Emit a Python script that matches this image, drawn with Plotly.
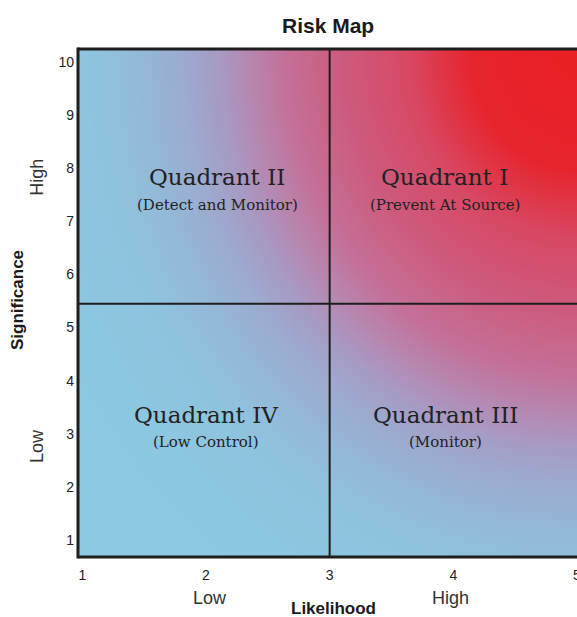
import numpy as np
import plotly.graph_objects as go

# ---- data ----
x_ticks = [1, 2, 3, 4, 5]
y_ticks = [1, 2, 3, 4, 5, 6, 7, 8, 9, 10]
x_split = 3
y_split = 5.45
quad_names = ["Quadrant II", "Quadrant I", "Quadrant IV", "Quadrant III"]
quad_subs = ["(Detect and Monitor)", "(Prevent At Source)", "(Low Control)", "(Monitor)"]
x_level_labels = ["Low", "High"]
y_level_labels = ["Low", "High"]

# ---- layout constants ----
X_RANGE = [0.965, 5.0]
Y_RANGE = [0.68, 10.245]
W, H = 577, 617
M_L, M_R, M_T, M_B = 78, 0, 49, 60
quad_xy = [(2.09, 7.83), (3.93, 7.83), (2.0, 3.36), (3.94, 3.36)]
sub_dy = -0.52

# background gradient (elliptical from top-right corner, in pixel space)
px_per_x = (W - M_L - M_R) / (X_RANGE[1] - X_RANGE[0])
px_per_y = (H - M_T - M_B) / (Y_RANGE[1] - Y_RANGE[0])
gx = np.linspace(X_RANGE[0], X_RANGE[1], 220)
gy = np.linspace(Y_RANGE[0], Y_RANGE[1], 220)
XX, YY = np.meshgrid(gx, gy)
cx, cy = 5.02, 10.25
Z = np.sqrt(((XX - cx) * px_per_x * 1.1) ** 2 + ((YY - cy) * px_per_y) ** 2)

ZMAX = 650.0
stops = [
    (0, (234, 30, 36)),
    (120, (231, 36, 44)),
    (190, (216, 72, 100)),
    (260, (205, 90, 125)),
    (325, (196, 112, 152)),
    (370, (180, 138, 180)),
    (400, (166, 155, 196)),
    (440, (155, 172, 208)),
    (480, (148, 184, 215)),
    (530, (142, 195, 222)),
    (650, (140, 200, 226)),
]
cscale = [[d / ZMAX, "rgb(%d,%d,%d)" % c] for d, c in stops]

fig = go.Figure()
fig.add_trace(go.Heatmap(
    x=gx, y=gy, z=Z, zmin=0, zmax=ZMAX, colorscale=cscale,
    showscale=False, zsmooth="best", hoverinfo="skip",
))

line_col = "#1e1e1e"
shapes = [
    dict(type="line", xref="x", yref="paper", x0=x_split, x1=x_split, y0=0, y1=1,
         line=dict(color=line_col, width=2)),
    dict(type="line", xref="paper", yref="y", x0=0, x1=1.02, y0=y_split, y1=y_split,
         line=dict(color=line_col, width=2)),
    # frame
    dict(type="line", xref="paper", yref="paper", x0=0, x1=0, y0=-0.003, y1=1.003,
         line=dict(color=line_col, width=3)),
    dict(type="line", xref="paper", yref="paper", x0=0, x1=1.05, y0=1, y1=1,
         line=dict(color=line_col, width=3)),
    dict(type="line", xref="paper", yref="paper", x0=0, x1=1.05, y0=0, y1=0,
         line=dict(color=line_col, width=3)),
]

serif = "DejaVu Serif"
sans = "Liberation Sans"
ann = []
for (qx, qy), name, sub in zip(quad_xy, quad_names, quad_subs):
    ann.append(dict(x=qx, y=qy, text=name, showarrow=False, xref="x", yref="y",
                    xanchor="center", yanchor="middle",
                    font=dict(family=serif, size=23, color="#222")))
    ann.append(dict(x=qx, y=qy + sub_dy, text=sub, showarrow=False, xref="x", yref="y",
                    xanchor="center", yanchor="middle",
                    font=dict(family=serif, size=15, color="#222")))

# level labels on x axis
for xv, txt in zip([2.03, 3.98], x_level_labels):
    ann.append(dict(x=xv, y=-0.0807, xref="x", yref="paper", text=txt, showarrow=False,
                    xanchor="center", yanchor="middle",
                    font=dict(family=sans, size=18, color="#333")))
# level labels on y axis
for yv, txt in zip([2.77, 7.82], y_level_labels):
    ann.append(dict(x=-0.082, y=yv, xref="paper", yref="y", text=txt, showarrow=False,
                    textangle=-90, xanchor="center", yanchor="middle",
                    font=dict(family=sans, size=18, color="#333")))
# axis titles
ann.append(dict(x=3.03, y=-0.1004, xref="x", yref="paper", text="<b>Likelihood</b>", showarrow=False,
                xanchor="center", yanchor="middle",
                font=dict(family=sans, size=17, color="#1a1a1a")))
ann.append(dict(x=-0.120, y=5.52, xref="paper", yref="y", text="<b>Significance</b>", showarrow=False,
                textangle=-90, xanchor="center", yanchor="middle",
                font=dict(family=sans, size=17, color="#1a1a1a")))
# title
ann.append(dict(x=2.99, y=1.0, yshift=24, xref="x", yref="paper", text="<b>Risk Map</b>", showarrow=False,
                xanchor="center", yanchor="middle",
                font=dict(family=sans, size=21, color="#1a1a1a")))

fig.update_layout(
    width=W, height=H,
    margin=dict(l=M_L, r=M_R, t=M_T, b=M_B, pad=0, autoexpand=False),
    paper_bgcolor="white", plot_bgcolor="white",
    shapes=shapes, annotations=ann,
    showlegend=False,
    xaxis=dict(range=X_RANGE, tickvals=x_ticks, ticktext=[str(v) for v in x_ticks],
               showgrid=False, zeroline=False, showline=False, ticks="",
               ticklabelstandoff=8, ticklabeloverflow="allow", automargin=False,
               tickfont=dict(family=sans, size=14, color="#222"), fixedrange=True),
    yaxis=dict(range=Y_RANGE, tickvals=y_ticks, ticktext=[str(v) for v in y_ticks],
               showgrid=False, zeroline=False, showline=False, ticks="",
               ticklabelstandoff=3, automargin=False,
               tickfont=dict(family=sans, size=14, color="#222"), fixedrange=True),
)

fig.write_html(
    "out.html",
    config={"displayModeBar": False},
    post_script="document.body.style.margin='0';document.body.style.overflow='hidden';",
)
